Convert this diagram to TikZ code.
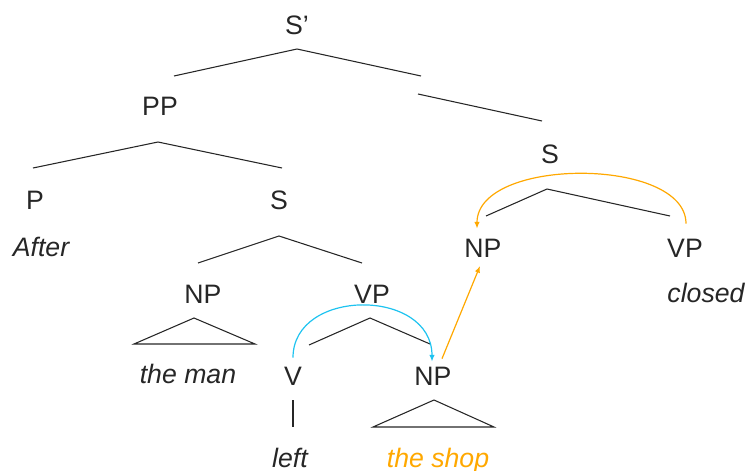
\documentclass[tikz,border=0pt]{standalone}
\usepackage{fontspec}
\setmainfont{Liberation Sans}
\usetikzlibrary{arrows.meta,calc}
\definecolor{ink}{RGB}{38,38,38}
\definecolor{move}{RGB}{255,168,0}
\definecolor{hop}{RGB}{30,195,240}

\begin{document}
\begin{tikzpicture}[x=0.75pt,y=-0.75pt,
    cat/.style={inner sep=0,outer sep=0,anchor=base,text=ink,font=\fontsize{20}{24}\selectfont},
    word/.style={cat,font=\fontsize{20}{24}\selectfont\itshape},
    branch/.style={draw=ink,line width=0.8pt},
    tip/.style={-{Latex[length=5pt,width=4pt]},line width=0.9pt}]
      \useasboundingbox (0,0) rectangle (747,471);
      % categories
      \node[cat] (sbar) at (297,35) {S’};
      \node[cat] (pp) at (160,115) {PP};
      \node[cat] (p) at (35,209) {P};
      \node[cat] (s1) at (279,209) {S};
      \node[cat] (s2) at (550,163) {S};
      \node[cat] (np1) at (203,303) {NP};
      \node[cat] (vp1) at (372,303) {VP};
      \node[cat] (v) at (293,385) {V};
      \node[cat] (np2) at (433,385) {NP};
      \node[cat] (np3) at (483,257) {NP};
      \node[cat] (vp2) at (685,257) {VP};
      % words
      \node[word] (after) at (41,256) {After};
      \node[word] (theman) at (188,383) {the man};
      \node[word] (left) at (290,467) {left};
      \node[word,text=move] (theshop) at (438,467) {the shop};
      \node[word] (closed) at (706,302) {closed};
      % branches
      \draw[branch] (174,76) -- (297,49) -- (421,76);
      \draw[branch] (418,94) -- (542,121);
      \draw[branch] (33,168) -- (158,142) -- (282,168);
      \draw[branch] (198,263) -- (279,236) -- (362,263);
      \draw[branch] (309,345) -- (370,318) -- (430,344);
      \draw[branch] (486,216) -- (547,189) -- (670,216);
      \draw[branch] (293,400) -- (293,427);
      \draw[branch] (194,318) -- (134,344) -- (255,344) -- cycle;
      \draw[branch] (434,400) -- (373,427) -- (494,427) -- cycle;
      % movement
      \draw[tip,hop] ($(v.north)+(0,-9)$) .. controls +(0,-70) and +(0,-74) .. ($(np2.north)+(-1,-5)$);
      \draw[tip,move] ($(np2.north)+(9,-8)$) -- ($(np3.south)+(-3,9)$);
      \draw[tip,move] ($(vp2.north)+(1,-15)$) .. controls +(0,-67) and +(0,-72) .. ($(np3.north)+(-6,-10)$);
    \end{tikzpicture}
\end{document}
